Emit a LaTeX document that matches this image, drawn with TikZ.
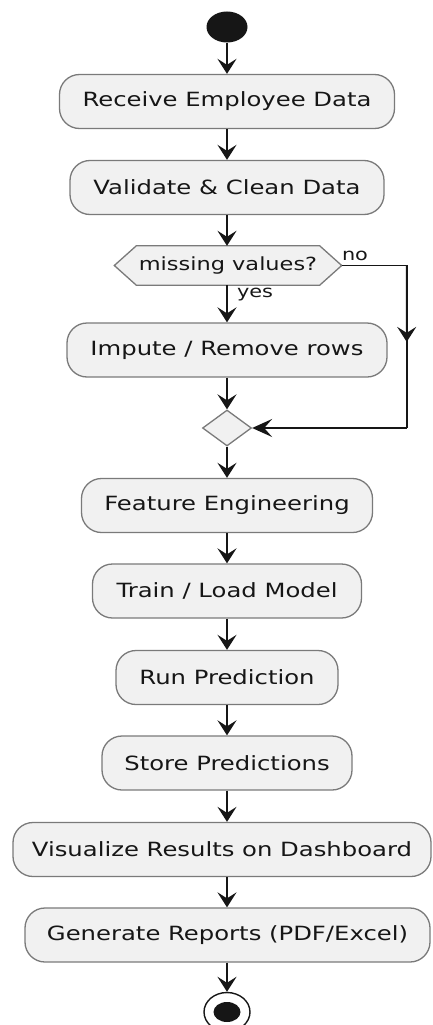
\documentclass[tikz,border=0pt]{standalone}
\usepackage{fontspec}
\setmainfont[FakeStretch=1.24]{DejaVu Sans}
\usetikzlibrary{shapes.geometric,arrows.meta,calc}
\definecolor{boxfill}{HTML}{F1F1F1}
\definecolor{boxline}{HTML}{7A7A7A}
\definecolor{ink}{HTML}{161616}
\tikzset{
  act/.style={draw=boxline, fill=boxfill, line width=1.3pt, rounded corners=20pt,
    minimum height=54pt, inner sep=0pt, text=ink,
    font=\fontsize{19.6}{22}\selectfont},
  flow/.style={draw=ink, line width=1.9pt, -{Stealth[length=15pt,width=19pt,inset=6pt]}},
  flowh/.style={draw=ink, line width=1.9pt, -{Stealth[length=20pt,width=18pt,inset=8pt]}},
  plain/.style={draw=ink, line width=1.9pt},
  lbl/.style={text=ink, inner sep=0pt, font=\fontsize{16.8}{18}\selectfont},
}
\begin{document}
\begin{tikzpicture}[x=1pt,y=1pt]
\useasboundingbox (0,0) rectangle (432,-1025);
% start
\node[ellipse, fill=ink, minimum width=41pt, minimum height=31pt, inner sep=0pt] (start) at (227,-27) {};
% activities
\node[act, minimum width=335pt] (b1) at (227,-101.5) {Receive Employee Data};
\node[act, minimum width=314pt] (b2) at (227,-187.5) {Validate \& Clean Data};
% hexagon decision
\node[minimum width=183pt, minimum height=39pt, inner sep=0pt] (hex) at (228,-265.5) {};
\coordinate (hexR) at ($(hex.east)+(22,0)$);
\coordinate (hexL) at ($(hex.west)+(-22,0)$);
\draw[draw=boxline, fill=boxfill, line width=1.3pt]
  (hex.north west) -- (hex.north east) -- (hexR) -- (hex.south east)
  -- (hex.south west) -- (hexL) -- cycle;
\node[inner sep=0pt, text=ink, font=\fontsize{18.1}{20}\selectfont] (hextext) at (hex) {missing values?};
\node[act, minimum width=320pt] (b3) at (227,-350) {Impute / Remove rows};
\node[diamond, draw=boxline, fill=boxfill, line width=1.3pt, minimum width=49pt,
  minimum height=36pt, aspect=1.36, inner sep=0pt] (merge) at (227,-428) {};
\node[act, minimum width=291pt] (b4) at (227,-505.5) {Feature Engineering};
\node[act, minimum width=269pt] (b5) at (227,-591) {Train / Load Model};
\node[act, minimum width=222pt] (b6) at (227,-677.5) {Run Prediction};
\node[act, minimum width=250pt] (b7) at (227,-763) {Store Predictions};
\node[act, minimum width=418pt] (b8) at (222,-849.5) {Visualize Results on Dashboard};
\node[act, minimum width=405pt] (b9) at (227.5,-935) {Generate Reports (PDF/Excel)};
% end
\node[ellipse, draw=ink, line width=1.4pt, fill=white, minimum width=46pt, minimum height=39pt, inner sep=0pt] (endo) at (227,-1012) {};
\node[ellipse, fill=ink, minimum width=27pt, minimum height=20pt, inner sep=0pt] (endi) at (endo) {};
% connectors
\draw[flow] (start.south) -- (start.south |- b1.north);
\draw[flow] (b1.south -| start) -- (start |- b2.north);
\draw[flow] (b2.south -| start) -- (start |- hex.north);
\draw[flow] (start |- hex.south) -- (start |- b3.north);
\draw[flow] (b3.south -| start) -- (merge.north);
\draw[flow] (merge.south) -- (start |- b4.north);
\draw[flow] (b4.south -| start) -- (start |- b5.north);
\draw[flow] (b5.south -| start) -- (start |- b6.north);
\draw[flow] (b6.south -| start) -- (start |- b7.north);
\draw[flow] (b7.south -| start) -- (start |- b8.north);
\draw[flow] (b8.south -| start) -- (start |- b9.north);
\draw[flow] (b9.south -| start) -- (endo.north);
% no branch
\coordinate (c1) at ($(hexR)+(65,0)$);
\coordinate (c2) at (c1 |- merge.east);
\draw[plain] (hexR) -- (c1) -- (c2);
\draw[flow] (c1) -- ($(c1)!0.47!(c2)$);
\draw[flowh] (c2) -- (merge.east);
% labels
\node[lbl] (lno) at (355,-256) {no};
\node[lbl] (lyes) at (255,-295) {yes};
\end{tikzpicture}
\end{document}
